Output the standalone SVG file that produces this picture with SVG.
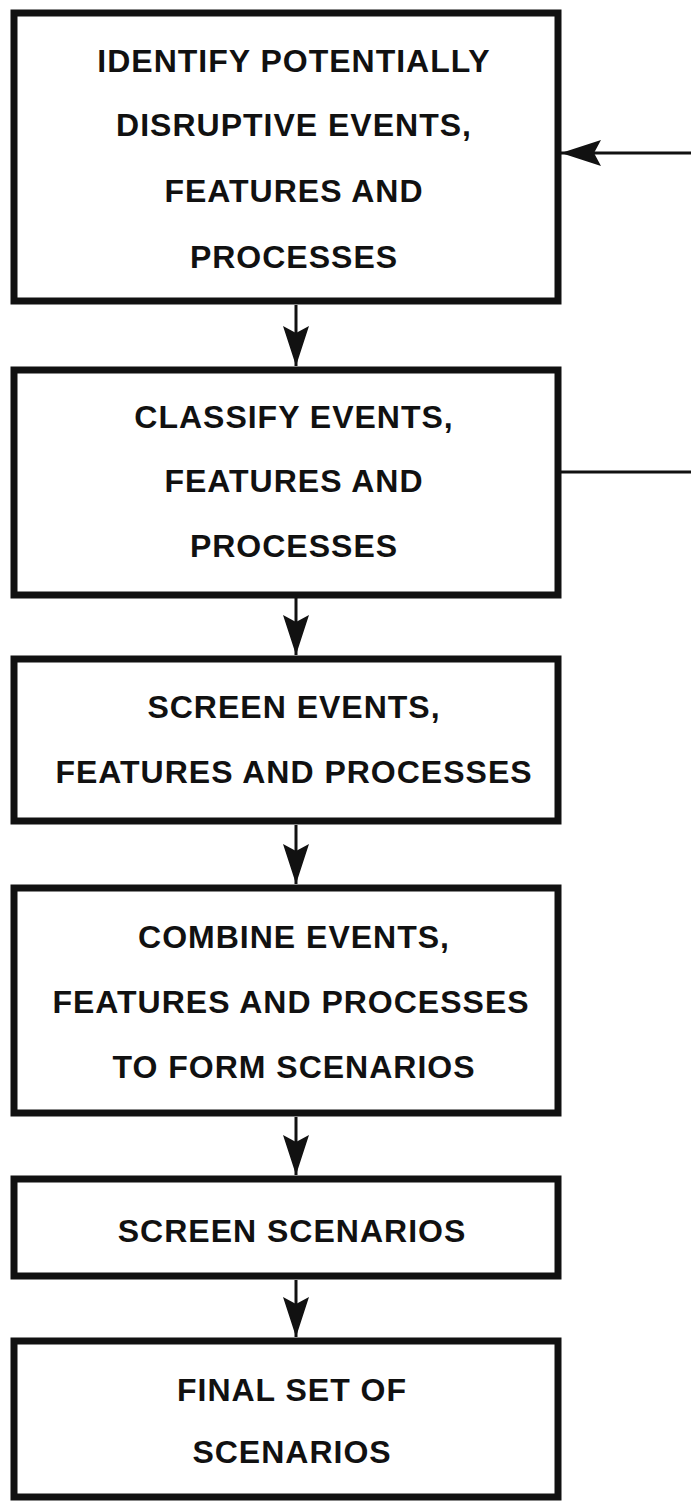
<svg xmlns="http://www.w3.org/2000/svg" width="691" height="1502" viewBox="0 0 691 1502">
  <defs>
    <marker id="arrow" markerUnits="userSpaceOnUse" viewBox="0 0 40 26" markerWidth="40" markerHeight="26" refX="40" refY="13" orient="auto">
      <path d="M0,0 L40,13 L0,26 L7,13 Z" fill="#111"/>
    </marker>
    <style>
      .box { fill: #fff; stroke: #111; stroke-width: 7; }
      .lbl { font-family: "Liberation Sans", Arial, sans-serif; font-weight: bold; font-size: 32px; letter-spacing: 1px; fill: #111; text-anchor: middle; }
      .con { fill: none; stroke: #111; stroke-width: 3; }
    </style>
  </defs>
  <rect width="691" height="1502" fill="#fff"/>

  <g id="connectors">
    <line class="con" x1="296" y1="305" x2="296" y2="366" marker-end="url(#arrow)"/>
    <line class="con" x1="296" y1="598" x2="296" y2="655" marker-end="url(#arrow)"/>
    <line class="con" x1="296" y1="825" x2="296" y2="884" marker-end="url(#arrow)"/>
    <line class="con" x1="296" y1="1117" x2="296" y2="1175" marker-end="url(#arrow)"/>
    <line class="con" x1="296" y1="1280" x2="296" y2="1337" marker-end="url(#arrow)"/>
    <line class="con" x1="561" y1="472" x2="691" y2="472"/>
    <line class="con" x1="691" y1="153" x2="561" y2="153" marker-end="url(#arrow)"/>
  </g>

  <g id="node1">
    <rect class="box" x="14" y="13" width="544" height="288"/>
    <text class="lbl" x="294" y="72">IDENTIFY POTENTIALLY</text>
    <text class="lbl" x="294" y="136">DISRUPTIVE EVENTS,</text>
    <text class="lbl" x="294" y="202">FEATURES AND</text>
    <text class="lbl" x="294" y="268">PROCESSES</text>
  </g>

  <g id="node2">
    <rect class="box" x="14" y="370" width="544" height="225"/>
    <text class="lbl" x="294" y="428">CLASSIFY EVENTS,</text>
    <text class="lbl" x="294" y="492">FEATURES AND</text>
    <text class="lbl" x="294" y="557">PROCESSES</text>
  </g>

  <g id="node3">
    <rect class="box" x="14" y="659" width="544" height="162"/>
    <text class="lbl" x="294" y="718">SCREEN EVENTS,</text>
    <text class="lbl" x="294" y="783">FEATURES AND PROCESSES</text>
  </g>

  <g id="node4">
    <rect class="box" x="14" y="888" width="544" height="225"/>
    <text class="lbl" x="294" y="948">COMBINE EVENTS,</text>
    <text class="lbl" x="291" y="1013">FEATURES AND PROCESSES</text>
    <text class="lbl" x="294" y="1078">TO FORM SCENARIOS</text>
  </g>

  <g id="node5">
    <rect class="box" x="14" y="1179" width="544" height="97"/>
    <text class="lbl" x="292" y="1242">SCREEN SCENARIOS</text>
  </g>

  <g id="node6">
    <rect class="box" x="14" y="1341" width="544" height="156"/>
    <text class="lbl" x="292" y="1401">FINAL SET OF</text>
    <text class="lbl" x="292" y="1463">SCENARIOS</text>
  </g>
</svg>
